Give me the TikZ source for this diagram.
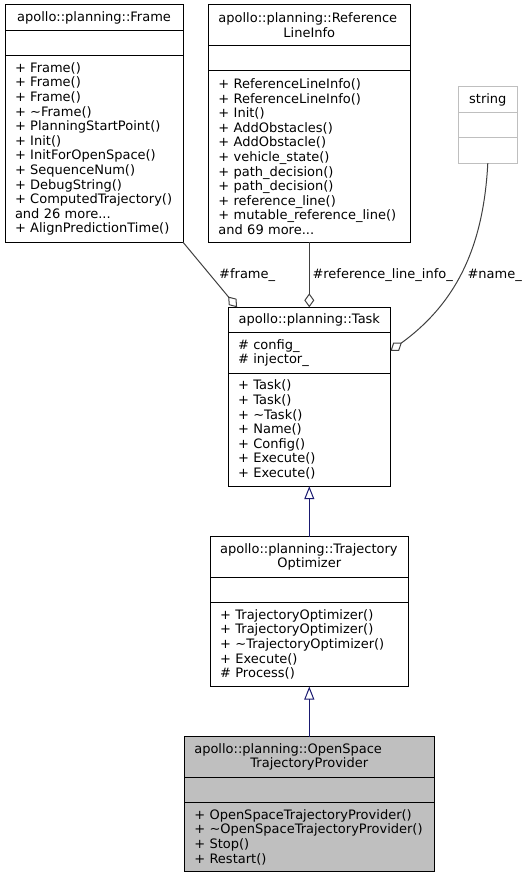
\documentclass[tikz,border=0pt]{standalone}
\usepackage{fontspec}
\setmainfont{DejaVu Sans}
\usetikzlibrary{positioning,arrows.meta}
\definecolor{edgegray}{HTML}{404040}
\definecolor{inhblue}{HTML}{191970}
\definecolor{boxgray}{HTML}{BFBFBF}
\newcommand{\twoline}[2]{#1\hfill\null\\#2}
\begin{document}
\begin{tikzpicture}[x=1pt,y=1pt,node distance=0pt,
  font=\fontsize{13}{14.6}\selectfont,
  part/.style={draw,line width=1pt,outer sep=0pt,inner xsep=10pt,inner ysep=3pt,anchor=north},
  hd/.style={part,align=center},
  body/.style={part,align=left},
  agg/.style={edgegray,line width=1pt,-{Diamond[open,length=14pt,width=10pt]}},
  inh/.style={inhblue,line width=1pt,-{Triangle[open,length=13pt,width=10pt]}},
  lbl/.style={anchor=base west,inner sep=0pt}]
  \useasboundingbox (0,0) rectangle (529,-877);
  % Frame
  \node[hd,text width=158pt,minimum height=25.5pt] (frame) at (94,-5) {apollo::planning::Frame};
  \node[body,text width=158pt,minimum height=25.5pt,below=of frame] (frameattr) {};
  \node[body,text width=158pt,minimum height=186.2pt,below=of frameattr] (frameop)
    {+~Frame()\\+~Frame()\\+~Frame()\\+~\textasciitilde Frame()\\+~PlanningStartPoint()\\+~Init()\\
     +~InitForOpenSpace()\\+~SequenceNum()\\+~DebugString()\\+~ComputedTrajectory()\\
     and~26~more...\\+~AlignPredictionTime()};
  % ReferenceLineInfo
  \node[hd,text width=181.7pt,minimum height=40.3pt] (rli) at (309.3,-5) {\twoline{apollo::planning::Reference}{LineInfo}};
  \node[body,text width=181.7pt,minimum height=25.5pt,below=of rli] (rliattr) {};
  \node[body,text width=181.7pt,minimum height=171.6pt,below=of rliattr] (rliop)
    {+~ReferenceLineInfo()\\+~ReferenceLineInfo()\\+~Init()\\+~AddObstacles()\\+~AddObstacle()\\
     +~vehicle\_state()\\+~path\_decision()\\+~path\_decision()\\+~reference\_line()\\
     +~mutable\_reference\_line()\\and~69~more...};
  % string
  \node[hd,draw=boxgray,text width=39pt,minimum height=25.5pt] (str) at (487.8,-86.7) {string};
  \node[body,draw=boxgray,text width=39pt,minimum height=25.5pt,below=of str] (strattr) {};
  \node[body,draw=boxgray,text width=39pt,minimum height=25.5pt,below=of strattr] (strop) {};
  % Task
  \node[hd,text width=142.4pt,minimum height=25.5pt] (task) at (309.3,-307.3) {apollo::planning::Task};
  \node[body,text width=142.4pt,minimum height=40.2pt,below=of task] (taskattr) {\#~config\_\\\#~injector\_};
  \node[body,text width=142.4pt,minimum height=113.2pt,below=of taskattr] (taskop)
    {+~Task()\\+~Task()\\+~\textasciitilde Task()\\+~Name()\\+~Config()\\+~Execute()\\+~Execute()};
  % TrajectoryOptimizer
  \node[hd,text width=178.3pt,minimum height=40.3pt] (topt) at (309.3,-536.7) {\twoline{apollo::planning::Trajectory}{Optimizer}};
  \node[body,text width=178.3pt,minimum height=25.5pt,below=of topt] (toptattr) {};
  \node[body,text width=178.3pt,minimum height=84pt,below=of toptattr] (toptop)
    {+~TrajectoryOptimizer()\\+~TrajectoryOptimizer()\\+~\textasciitilde TrajectoryOptimizer()\\
     +~Execute()\\\#~Process()};
  % OpenSpaceTrajectoryProvider
  \node[hd,fill=boxgray,text width=230pt,minimum height=40.3pt] (ostp) at (309.3,-736.7) {\twoline{apollo::planning::OpenSpace}{TrajectoryProvider}};
  \node[body,fill=boxgray,text width=230pt,minimum height=25.5pt,below=of ostp] (ostpattr) {};
  \node[body,fill=boxgray,text width=230pt,minimum height=69.4pt,below=of ostpattr] (ostpop)
    {+~OpenSpaceTrajectoryProvider()\\+~\textasciitilde OpenSpaceTrajectoryProvider()\\+~Stop()\\+~Restart()};
  % edges
  \draw[inh] (topt.north) -- (taskop.south);
  \draw[inh] (ostp.north) -- (toptop.south);
  \draw[agg] (frameop.south east) -- ([xshift=9pt]task.north west);
  \draw[agg] (rliop.south) -- (task.north);
  \draw[agg] (strop.south) to[out=-93,in=36] ([yshift=2pt]taskattr.east);
  \node[lbl] (lframe) at (219,-278) {\#frame\_};
  \node[lbl] (lrli) at (312.3,-278) {\#reference\_line\_info\_};
  \node[lbl] (lname) at (467.3,-278) {\#name\_};
\end{tikzpicture}
\end{document}
